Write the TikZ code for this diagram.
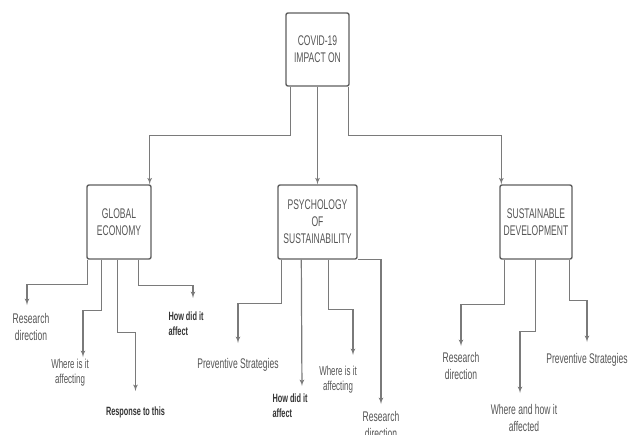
\documentclass[tikz,border=0pt]{standalone}
\usepackage{fontspec}
\setmainfont{Liberation Sans}[FakeStretch=0.61]
\usetikzlibrary{arrows}
\definecolor{boxgrey}{HTML}{5E5E5E}
\definecolor{linegrey}{HTML}{7A7A7A}
\definecolor{txtgrey}{HTML}{555555}

\begin{document}
\begin{tikzpicture}[x=1pt,y=-1pt]

		\tikzset{topic/.style = {shape=rectangle,rounded corners=2pt,draw=boxgrey,line width=1.4pt,text=txtgrey,align=center,font=\fontsize{14}{17}\selectfont}}
		\tikzset{leaf/.style = {align=center,text=txtgrey,inner sep=1pt,anchor=north,font=\fontsize{14}{17}\selectfont}}
		\tikzset{leafsmall/.style = {leaf,font=\fontsize{13}{15}\selectfont}}
		\tikzset{leafbold/.style = {leaf,align=left,text=black!80,font=\fontsize{12}{15}\selectfont\bfseries}}
		\tikzset{edge/.style = {->,> = latex',draw=linegrey,line width=1.2pt}}
		\useasboundingbox (0,0) rectangle (628,434);
		% vertices
		\node[topic,minimum width=63pt,minimum height=73pt] (top) at (317.5,49.5) {COVID-19\\IMPACT ON};
		\node[topic,minimum width=64pt,minimum height=74pt] (ge) at (119,222) {GLOBAL\\ECONOMY};
		\node[topic,minimum width=79pt,minimum height=74pt] (ps) at (317.5,222) {PSYCHOLOGY\\OF\\SUSTAINABILITY};
		\node[topic,minimum width=72pt,minimum height=74pt] (sd) at (536,222) {SUSTAINABLE\\DEVELOPMENT};
		% leaves of global economy
		\node[leaf] (ge1) at (31,312) {Research\\direction};
		\node[leafsmall] (ge2) at (70,358) {Where is it\\affecting};
		\node[leafbold,align=center] (ge3) at (135.5,406) {Response to this};
		\node[leafbold] (ge4) at (186,311) {How did it\\affect};
		% leaves of psychology
		\node[leaf] (ps1) at (238,357) {Preventive Strategies};
		\node[leafbold] (ps2) at (290,393) {How did it\\affect};
		\node[leafsmall] (ps3) at (338,365) {Where is it\\affecting};
		\node[leaf] (ps4) at (381,410) {Research\\direction};
		% leaves of sustainable development
		\node[leaf] (sd1) at (461,351) {Research\\direction};
		\node[leaf] (sd2) at (524,403) {Where and how it\\affected};
		\node[leaf] (sd3) at (587,352) {Preventive Strategies};
		%edges
		\draw[edge] ([xshift=5pt]top.south west) -- ++(0,49) -| ([xshift=-2pt]ge.north east);
		\draw[edge] (top) -- (ps);
		\draw[edge] ([xshift=-1pt]top.south east) -- ++(0,49) -| ([xshift=2pt]sd.north west);
		\draw[edge,shorten >=7pt] ([xshift=1pt]ge.south west) -- ++(0,25) -| ([xshift=-4pt]ge1.north);
		\draw[edge,shorten >=1pt] ([xshift=15pt]ge.south west) -- ++(0,51) -| ([xshift=13pt]ge2.north);
		\draw[edge,shorten >=15pt] ([xshift=31pt]ge.south west) -- ++(0,73) -| (ge3.north);
		\draw[edge,shorten >=13pt] ([xshift=52pt]ge.south west) -- ++(0,26) -| ([xshift=7pt]ge4.north);
		\draw[edge,shorten >=14pt] ([xshift=4pt]ps.south west) -- ++(0,44) -| (ps1.north);
		\draw[edge,shorten >=7pt] ([xshift=24pt]ps.south west) -- ([xshift=12pt]ps2.north);
		\draw[edge,shorten >=10pt] ([xshift=51pt]ps.south west) -- ++(0,50) -| ([xshift=15pt]ps3.north);
		\draw[edge,shorten >=6pt] (ps.south east) -| (ps4.north);
		\draw[edge,shorten >=5pt] ([xshift=5pt]sd.south west) -- ++(0,45) -| (sd1.north);
		\draw[edge,shorten >=10pt] ([xshift=36pt]sd.south west) -- ++(0,72) -| ([xshift=-4pt]sd2.north);
		\draw[edge,shorten >=10pt] ([xshift=70pt]sd.south west) -- ++(0,41) -| (sd3.north);
\end{tikzpicture}
\end{document}
